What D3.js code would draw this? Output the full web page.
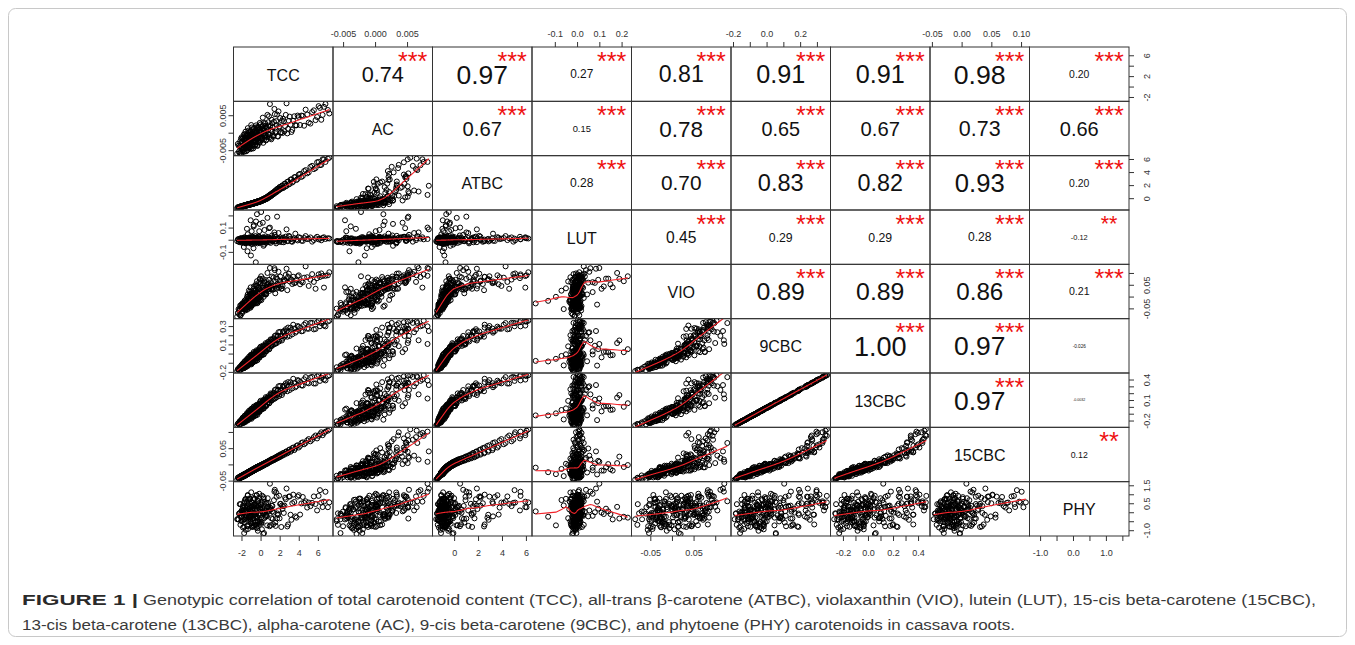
<!DOCTYPE html>
<html>
<head>
<meta charset="utf-8">
<script src="https://cdn.jsdelivr.net/npm/d3@7"></script>
<style>
  body { margin: 0; background: #fff; }
  svg text { font-family: "Liberation Sans", Arial, sans-serif; }
</style>
</head>
<body>
<svg id="chart" width="1355" height="645"></svg>
<script>
// ---------------- DATA ----------------
const varNames = ["TCC", "AC", "ATBC", "LUT", "VIO", "9CBC", "13CBC", "15CBC", "PHY"];

// genotype values (estimated from the scatter panels), one entry per genotype
const tcc = [
  -2.45, -2.31, -2.22, -2.14, -2.09, -2.03, -1.98, -1.94, -1.90, -1.86,
  -1.82, -1.79, -1.75, -1.72, -1.68, -1.65, -1.61, -1.58, -1.55, -1.52,
  -1.49, -1.46, -1.43, -1.40, -1.37, -1.34, -1.31, -1.28, -1.25, -1.22,
  -1.19, -1.16, -1.13, -1.10, -1.07, -1.04, -1.01, -0.98, -0.95, -0.92,
  -0.89, -0.86, -0.83, -0.80, -0.77, -0.74, -0.71, -0.68, -0.65, -0.62,
  -0.59, -0.56, -0.53, -0.50, -0.47, -0.44, -0.41, -0.38, -0.35, -0.32,
  -0.29, -0.26, -0.22, -0.18, -0.14, -0.10, -0.06, -0.02, 0.02, 0.06,
  0.10, 0.14, 0.18, 0.23, 0.28, 0.33, 0.38, 0.43, 0.48, 0.54,
  0.60, 0.66, 0.72, 0.78, 0.84, 0.91, 0.98, 1.05, 1.12, 1.20,
  1.28, 1.36, 1.45, 1.54, 1.63, 1.73, 1.83, 1.94, 2.05, 2.17,
  2.30, 2.43, 2.57, 2.72, 2.88, 3.05, 3.23, 3.42, 3.64, 3.88,
  4.14, 4.42, 4.72, 5.04, 5.40, 5.76, 6.08, 6.36, 6.64, 7.20,
  -2.38, -2.26, -2.18, -2.11, -2.05, -2.00, -1.96, -1.92, -1.88, -1.84,
  -1.80, -1.77, -1.73, -1.70, -1.66, -1.63, -1.60, -1.56, -1.53, -1.50,
  -1.47, -1.44, -1.41, -1.38, -1.35, -1.32, -1.29, -1.26, -1.23, -1.20,
  -1.17, -1.14, -1.11, -1.08, -1.05, -1.02, -0.99, -0.96, -0.93, -0.90,
  -0.87, -0.84, -0.81, -0.78, -0.75, -0.72, -0.69, -0.66, -0.63, -0.60,
  -0.57, -0.54, -0.51, -0.48, -0.45, -0.42, -0.39, -0.36, -0.33, -0.30,
  -0.27, -0.24, -0.20, -0.16, -0.12, -0.08, -0.04, 0.00, 0.04, 0.08,
  0.12, 0.16, 0.21, 0.26, 0.31, 0.36, 0.41, 0.46, 0.51, 0.57,
  0.63, 0.69, 0.75, 0.81, 0.88, 0.95, 1.02, 1.09, 1.16, 1.24,
  1.32, 1.40, 1.49, 1.58, 1.68, 1.78, 1.88, 1.99, 2.11, 2.23,
  2.36, 2.50, 2.64, 2.80, 2.96, 3.14, 3.32, 3.53, 3.76, 4.00,
  4.28, 4.56, 4.88, 5.22, 5.58, 5.92, 6.22, 6.50, 6.80, 7.05
];
const ac = [
  -0.0060, -0.0037, -0.0058, -0.0025, -0.0038, -0.0060, -0.0013, -0.0043, -0.0026, -0.0053,
  -0.0029, -0.0044, -0.0005, -0.0054, -0.0018, -0.0031, -0.0046, 0.0003, -0.0033, -0.0010,
  -0.0053, -0.0015, -0.0030, -0.0006, -0.0040, 0.0013, -0.0033, -0.0018, -0.0044, 0.0001,
  -0.0013, -0.0040, 0.0004, -0.0024, -0.0006, -0.0047, -0.0016, 0.0022, -0.0030, -0.0011,
  -0.0034, 0.0004, -0.0023, -0.0005, -0.0045, -0.0013, 0.0013, -0.0027, 0.0002, -0.0023,
  0.0004, -0.0034, -0.0006, -0.0026, 0.0021, -0.0018, -0.0001, 0.0013, -0.0036, -0.0008,
  -0.0024, 0.0017, -0.0011, 0.0007, 0.0001, -0.0029, 0.0012, -0.0015, 0.0024, -0.0022,
  0.0003, -0.0019, 0.0018, 0.0043, -0.0029, 0.0010, -0.0001, -0.0012, 0.0027, -0.0005,
  -0.0020, 0.0015, 0.0051, -0.0004, 0.0020, -0.0013, 0.0082, 0.0008, -0.0019, 0.0027,
  0.0016, -0.0011, 0.0068, -0.0001, 0.0033, 0.0052, -0.0011, 0.0018, 0.0042, 0.0001,
  -0.0001, 0.0033, 0.0019, 0.0084, 0.0011, 0.0046, 0.0002, 0.0034, 0.0021, 0.0049,
  0.0022, 0.0048, 0.0066, 0.0029, 0.0059, 0.0036, 0.0076, 0.0037, 0.0074, 0.0055,
  -0.0032, -0.0054, -0.0039, -0.0058, -0.0017, -0.0043, -0.0028, -0.0050, -0.0017, -0.0036,
  -0.0046, -0.0013, -0.0038, -0.0021, -0.0054, -0.0004, -0.0031, -0.0015, -0.0044, -0.0022,
  -0.0005, -0.0038, -0.0021, -0.0050, -0.0009, -0.0029, 0.0006, -0.0041, -0.0014, -0.0025,
  -0.0030, -0.0003, -0.0042, -0.0013, -0.0034, 0.0004, -0.0024, -0.0006, -0.0045, 0.0015,
  -0.0012, -0.0037, -0.0003, -0.0026, 0.0010, -0.0038, -0.0013, 0.0002, -0.0026, -0.0005,
  -0.0037, -0.0003, -0.0012, 0.0015, -0.0027, 0.0003, -0.0019, -0.0006, -0.0038, 0.0009,
  -0.0005, -0.0026, 0.0015, -0.0011, -0.0027, 0.0028, -0.0012, 0.0006, 0.0002, -0.0017,
  -0.0014, 0.0012, -0.0005, 0.0021, 0.0028, -0.0020, 0.0007, -0.0008, 0.0019, -0.0022,
  0.0012, -0.0013, 0.0006, 0.0030, 0.0047, -0.0006, 0.0019, -0.0015, 0.0037, 0.0003,
  -0.0008, 0.0031, 0.0053, 0.0003, 0.0022, -0.0010, 0.0061, 0.0015, 0.0001, 0.0034,
  0.0040, 0.0004, 0.0051, -0.0002, 0.0034, 0.0023, 0.0008, 0.0047, 0.0021, 0.0045,
  0.0049, 0.0020, 0.0052, 0.0026, 0.0064, 0.0045, 0.0071, 0.0051, 0.0082, 0.0065
];
const atbc = [
  -1.50, -1.35, -1.41, -1.28, -1.36, -1.22, -1.31, -1.20, -1.29, -1.17,
  -1.26, -1.13, -1.22, -1.10, -1.19, -1.08, -1.16, -1.04, -1.14, -1.12,
  -1.02, -1.11, -0.98, -1.07, -0.96, -1.08, -0.93, -1.03, -0.91, -1.01,
  -0.90, -0.99, -0.87, -0.96, -0.84, -0.95, -0.82, -0.92, -0.80, -0.89,
  -0.78, -0.88, -0.74, -0.85, -0.71, -0.83, -0.69, -0.80, -0.66, -0.77,
  -0.64, -0.75, -0.61, -0.72, -0.58, -0.70, -0.55, -0.66, -0.52, -0.63,
  -0.49, -0.61, -0.46, -0.58, -0.42, -0.55, -0.38, -0.50, -0.33, -0.45,
  -0.27, -0.40, -0.22, -0.35, -0.14, -0.29, -0.08, -0.22, -0.01, -0.15,
  0.10, -0.08, 0.22, 0.06, 0.35, 0.18, 0.50, 0.30, 0.65, 0.47,
  0.82, 0.62, 1.02, 0.85, 1.25, 1.02, 1.48, 1.26, 1.72, 1.50,
  1.95, 1.62, 2.22, 1.90, 2.55, 2.20, 2.88, 2.55, 3.25, 2.95,
  3.72, 3.40, 4.30, 3.95, 4.95, 4.60, 5.55, 5.10, 5.95, 6.20,
  -1.38, -1.43, -1.30, -1.37, -1.25, -1.33, -1.22, -1.30, -1.19, -1.27,
  -1.15, -1.24, -1.12, -1.21, -1.09, -1.18, -1.06, -1.15, -1.03, -1.13,
  -1.12, -1.00, -1.09, -0.97, -1.07, -0.95, -1.05, -0.92, -1.02, -0.90,
  -1.00, -0.88, -0.98, -0.85, -0.96, -0.83, -0.94, -0.80, -0.91, -0.78,
  -0.88, -0.75, -0.86, -0.72, -0.84, -0.70, -0.81, -0.67, -0.79, -0.64,
  -0.76, -0.62, -0.73, -0.58, -0.71, -0.55, -0.68, -0.52, -0.65, -0.49,
  -0.62, -0.47, -0.60, -0.43, -0.56, -0.39, -0.52, -0.34, -0.47, -0.29,
  -0.42, -0.22, -0.37, -0.14, -0.31, -0.06, -0.25, 0.01, -0.17, 0.08,
  -0.10, 0.20, 0.00, 0.34, 0.12, 0.48, 0.26, 0.63, 0.40, 0.80,
  0.58, 0.95, 0.76, 1.20, 0.95, 1.45, 1.18, 1.70, 1.40, 1.90,
  1.58, 2.20, 1.82, 2.50, 2.10, 2.85, 2.40, 3.20, 2.78, 3.62,
  3.25, 4.15, 3.80, 4.80, 4.45, 5.50, 5.05, 5.95, 5.55, 6.05
];
const lut = [
  -0.012, 0.004, -0.020, -0.006, 0.010, -0.015, -0.002, -0.025, 0.006, -0.010,
  -0.004, 0.012, -0.060, -0.018, 0.002, -0.009, 0.018, -0.030, -0.005, 0.008,
  -0.014, 0.001, 0.090, -0.022, -0.095, 0.005, -0.011, 0.015, -0.003, -0.019,
  0.007, -0.008, -0.027, 0.011, -0.001, 0.160, -0.130, -0.016, 0.003, 0.022,
  -0.010, -0.035, 0.006, -0.004, 0.014, -0.070, 0.120, -0.012, 0.000, -0.024,
  0.009, -0.007, 0.030, -0.186, -0.013, 0.004, -0.020, 0.210, -0.006, 0.013,
  -0.017, 0.002, -0.009, 0.025, 0.070, -0.028, 0.008, -0.003, -0.014, 0.228,
  0.005, -0.011, 0.017, 0.140, -0.022, 0.000, -0.040, 0.010, -0.007, 0.028,
  -0.015, 0.006, 0.180, -0.019, 0.012, -0.004, 0.100, -0.026, 0.003, 0.035,
  -0.008, 0.015, 0.060, -0.012, -0.030, 0.190, 0.007, -0.018, 0.020, -0.002,
  0.011, -0.021, 0.004, 0.085, -0.009, 0.024, -0.014, 0.001, 0.050, -0.006,
  0.016, -0.010, 0.030, 0.008, -0.016, 0.012, 0.003, -0.005, 0.020, 0.010,
  0.003, -0.016, 0.008, -0.011, -0.001, 0.014, -0.022, 0.000, -0.008, 0.011,
  -0.019, 0.005, -0.006, 0.020, -0.013, 0.002, -0.027, 0.009, -0.003, -0.015,
  0.012, -0.010, 0.004, -0.024, 0.045, -0.007, 0.016, -0.002, -0.018, 0.006,
  -0.005, 0.018, -0.014, 0.001, -0.021, 0.009, -0.033, 0.013, 0.070, -0.009,
  0.002, -0.017, 0.024, -0.006, 0.011, 0.110, -0.012, 0.005, -0.025, 0.015,
  -0.011, 0.007, -0.002, 0.150, -0.019, 0.003, 0.020, -0.008, -0.030, 0.010,
  0.000, -0.013, 0.027, 0.006, -0.022, 0.130, -0.005, 0.015, -0.016, 0.004,
  -0.009, 0.012, -0.020, 0.019, -0.050, -0.003, 0.080, -0.012, 0.008, -0.026,
  0.014, -0.007, 0.022, 0.002, 0.095, -0.018, 0.010, -0.004, 0.017, -0.011,
  -0.006, 0.009, 0.040, -0.015, 0.001, 0.013, 0.055, -0.009, 0.004, -0.020,
  0.018, -0.004, 0.026, -0.012, 0.032, 0.007, -0.017, 0.011, 0.002, 0.021,
  -0.008, 0.014, 0.005, 0.019, -0.003, 0.024, 0.009, 0.015, 0.006, 0.012
];
const vio = [
  -0.085, -0.053, -0.076, -0.038, -0.079, -0.051, -0.033, -0.070, -0.031, -0.049,
  -0.037, -0.047, -0.053, -0.053, -0.018, -0.023, -0.059, -0.014, -0.056, -0.034,
  -0.035, -0.021, -0.034, -0.041, -0.001, -0.043, -0.040, 0.003, -0.043, 0.026,
  -0.034, -0.028, 0.010, -0.038, -0.033, 0.039, -0.018, -0.014, -0.038, 0.014,
  -0.020, -0.021, 0.015, -0.028, -0.024, 0.025, 0.043, -0.018, -0.013, -0.029,
  0.023, 0.014, -0.006, -0.029, 0.046, -0.013, -0.004, 0.065, -0.006, 0.001,
  -0.012, 0.043, -0.006, 0.010, 0.061, -0.017, 0.073, 0.000, 0.004, 0.086,
  0.012, 0.006, 0.050, 0.076, 0.020, -0.001, 0.064, 0.011, 0.009, 0.070,
  0.012, 0.029, 0.100, 0.030, 0.034, 0.024, 0.121, 0.060, 0.031, 0.085,
  0.029, 0.081, 0.120, 0.014, 0.082, 0.075, 0.050, 0.038, 0.085, 0.033,
  0.045, 0.071, 0.068, 0.118, 0.083, 0.064, 0.072, 0.084, 0.059, 0.086,
  0.052, 0.060, 0.128, 0.045, 0.095, 0.033, 0.094, 0.098, 0.038, 0.103,
  -0.069, -0.060, -0.052, -0.080, -0.037, -0.043, -0.051, -0.064, -0.028, -0.050,
  -0.032, -0.032, -0.044, -0.040, -0.027, -0.028, -0.051, -0.028, -0.052, -0.022,
  -0.026, -0.032, -0.001, -0.055, 0.009, -0.045, -0.017, -0.012, -0.028, -0.040,
  0.006, -0.047, 0.021, 0.011, -0.047, 0.001, -0.016, -0.039, 0.019, -0.038,
  -0.023, 0.001, 0.007, -0.026, 0.013, 0.033, -0.028, 0.016, -0.001, 0.005,
  -0.014, -0.018, 0.027, 0.052, -0.025, 0.044, 0.015, 0.002, -0.028, 0.018,
  0.037, -0.021, 0.037, 0.030, -0.007, 0.076, -0.012, 0.056, 0.027, -0.015,
  0.014, 0.022, 0.018, 0.057, 0.035, 0.016, 0.058, 0.030, 0.032, 0.009,
  0.037, 0.040, 0.042, 0.052, 0.071, 0.045, 0.042, 0.048, 0.056, 0.038,
  0.047, 0.032, 0.112, 0.046, 0.034, 0.055, 0.105, 0.065, 0.043, 0.034,
  0.064, 0.066, 0.092, 0.027, 0.097, 0.074, 0.053, 0.057, 0.070, 0.090,
  0.064, 0.080, 0.082, 0.072, 0.062, 0.078, 0.083, 0.087, 0.088, 0.090
];
const cbc9 = [
  -0.190, -0.167, -0.182, -0.146, -0.177, -0.149, -0.128, -0.162, -0.132, -0.149,
  -0.111, -0.156, -0.129, -0.158, -0.111, -0.087, -0.132, -0.109, -0.149, -0.095,
  -0.126, -0.077, -0.131, -0.097, -0.057, -0.132, -0.096, -0.071, -0.110, -0.035,
  -0.110, -0.073, -0.045, -0.111, -0.073, -0.016, -0.086, -0.051, -0.106, -0.039,
  -0.054, -0.089, -0.016, -0.054, -0.089, -0.026, 0.018, -0.064, -0.029, -0.085,
  -0.007, -0.052, -0.017, -0.080, 0.022, -0.028, -0.050, 0.015, -0.031, 0.004,
  -0.048, 0.032, -0.003, -0.027, 0.026, -0.043, 0.065, 0.008, -0.018, 0.048,
  0.029, -0.017, 0.071, 0.016, 0.055, -0.010, 0.079, 0.052, 0.028, 0.114,
  0.029, 0.087, 0.115, 0.060, 0.111, 0.047, 0.105, 0.155, 0.084, 0.148,
  0.095, 0.167, 0.145, 0.108, 0.200, 0.143, 0.193, 0.132, 0.238, 0.190,
  0.163, 0.246, 0.199, 0.246, 0.284, 0.192, 0.258, 0.315, 0.228, 0.301,
  0.279, 0.246, 0.333, 0.271, 0.335, 0.269, 0.359, 0.332, 0.306, 0.359,
  -0.170, -0.183, -0.146, -0.178, -0.148, -0.125, -0.164, -0.144, -0.111, -0.163,
  -0.130, -0.099, -0.156, -0.117, -0.134, -0.081, -0.149, -0.100, -0.116, -0.131,
  -0.085, -0.129, -0.058, -0.111, -0.084, -0.133, -0.059, -0.096, -0.079, -0.116,
  -0.054, -0.097, -0.066, -0.030, -0.110, -0.069, -0.050, -0.117, -0.010, -0.068,
  -0.087, -0.023, -0.055, -0.096, 0.002, -0.041, -0.069, -0.018, -0.054, 0.001,
  -0.031, -0.079, 0.012, -0.019, -0.056, 0.036, -0.032, 0.004, -0.072, 0.001,
  0.023, -0.034, 0.001, 0.047, -0.040, 0.020, -0.010, 0.075, 0.008, -0.018,
  -0.010, 0.049, 0.015, 0.088, -0.008, 0.055, 0.086, 0.026, 0.080, 0.021,
  0.102, 0.047, 0.083, 0.130, 0.049, 0.116, 0.087, 0.148, 0.081, 0.131,
  0.158, 0.100, 0.193, 0.146, 0.113, 0.191, 0.233, 0.154, 0.191, 0.143,
  0.236, 0.184, 0.266, 0.184, 0.241, 0.283, 0.210, 0.273, 0.241, 0.294,
  0.243, 0.315, 0.272, 0.335, 0.264, 0.342, 0.298, 0.350, 0.297, 0.350
];
const cbc13 = [
  -0.270, -0.235, -0.262, -0.206, -0.255, -0.211, -0.190, -0.228, -0.196, -0.212,
  -0.160, -0.228, -0.184, -0.230, -0.168, -0.128, -0.195, -0.157, -0.218, -0.139,
  -0.187, -0.114, -0.194, -0.141, -0.095, -0.188, -0.147, -0.106, -0.166, -0.058,
  -0.158, -0.117, -0.071, -0.167, -0.110, -0.040, -0.126, -0.087, -0.154, -0.064,
  -0.091, -0.130, -0.033, -0.084, -0.138, -0.046, 0.005, -0.104, -0.050, -0.132,
  -0.020, -0.088, -0.034, -0.125, 0.018, -0.055, -0.078, 0.001, -0.060, -0.006,
  -0.083, 0.032, -0.015, -0.055, 0.024, -0.069, 0.068, 0.000, -0.043, 0.053,
  0.028, -0.034, 0.076, 0.010, 0.055, -0.024, 0.087, 0.059, 0.019, 0.142,
  0.020, 0.106, 0.135, 0.069, 0.130, 0.052, 0.122, 0.197, 0.094, 0.187,
  0.116, 0.205, 0.183, 0.126, 0.257, 0.173, 0.248, 0.158, 0.308, 0.236,
  0.207, 0.311, 0.256, 0.319, 0.362, 0.246, 0.327, 0.411, 0.287, 0.392,
  0.363, 0.311, 0.435, 0.344, 0.438, 0.342, 0.466, 0.426, 0.399, 0.462,
  -0.246, -0.257, -0.214, -0.250, -0.210, -0.186, -0.231, -0.212, -0.160, -0.237,
  -0.186, -0.151, -0.220, -0.175, -0.191, -0.127, -0.211, -0.153, -0.167, -0.194,
  -0.125, -0.191, -0.089, -0.167, -0.124, -0.197, -0.098, -0.140, -0.125, -0.167,
  -0.091, -0.141, -0.107, -0.052, -0.166, -0.104, -0.078, -0.175, -0.025, -0.110,
  -0.128, -0.050, -0.085, -0.147, -0.016, -0.066, -0.111, -0.036, -0.091, -0.010,
  -0.053, -0.124, 0.005, -0.044, -0.087, 0.029, -0.061, -0.006, -0.115, -0.017,
  0.019, -0.057, -0.017, 0.044, -0.072, 0.015, -0.025, 0.089, -0.008, -0.035,
  -0.032, 0.054, 0.001, 0.099, -0.022, 0.062, 0.104, 0.016, 0.096, 0.010,
  0.125, 0.044, 0.100, 0.155, 0.054, 0.137, 0.105, 0.180, 0.090, 0.164,
  0.200, 0.115, 0.247, 0.177, 0.140, 0.237, 0.301, 0.188, 0.244, 0.173,
  0.292, 0.235, 0.345, 0.228, 0.312, 0.360, 0.270, 0.347, 0.304, 0.383,
  0.314, 0.403, 0.353, 0.430, 0.342, 0.447, 0.380, 0.458, 0.387, 0.450
];
const cbc15 = [
  -0.047, -0.040, -0.044, -0.037, -0.041, -0.035, -0.040, -0.034, -0.039, -0.033,
  -0.037, -0.032, -0.036, -0.030, -0.035, -0.029, -0.034, -0.028, -0.033, -0.028,
  -0.032, -0.027, -0.031, -0.025, -0.030, -0.024, -0.029, -0.023, -0.028, -0.022,
  -0.027, -0.021, -0.026, -0.020, -0.025, -0.019, -0.024, -0.018, -0.023, -0.017,
  -0.022, -0.016, -0.021, -0.015, -0.020, -0.014, -0.019, -0.013, -0.018, -0.012,
  -0.017, -0.011, -0.016, -0.010, -0.015, -0.009, -0.014, -0.008, -0.013, -0.007,
  -0.012, -0.007, -0.011, -0.005, -0.010, -0.004, -0.009, -0.003, -0.007, -0.002,
  -0.006, -0.001, -0.005, 0.001, -0.003, 0.002, -0.002, 0.004, 0.000, 0.005,
  0.002, 0.007, 0.004, 0.009, 0.006, 0.011, 0.008, 0.013, 0.010, 0.016,
  0.013, 0.018, 0.015, 0.021, 0.018, 0.024, 0.021, 0.028, 0.024, 0.031,
  0.028, 0.035, 0.033, 0.040, 0.037, 0.046, 0.043, 0.052, 0.049, 0.059,
  0.057, 0.068, 0.066, 0.078, 0.076, 0.089, 0.088, 0.099, 0.097, 0.108,
  -0.041, -0.045, -0.038, -0.042, -0.036, -0.040, -0.035, -0.039, -0.033, -0.038,
  -0.032, -0.037, -0.031, -0.036, -0.030, -0.035, -0.029, -0.034, -0.028, -0.032,
  -0.027, -0.031, -0.026, -0.030, -0.025, -0.029, -0.024, -0.028, -0.023, -0.027,
  -0.022, -0.026, -0.021, -0.025, -0.020, -0.024, -0.019, -0.023, -0.018, -0.022,
  -0.017, -0.021, -0.016, -0.020, -0.015, -0.019, -0.014, -0.018, -0.013, -0.017,
  -0.012, -0.016, -0.011, -0.015, -0.010, -0.014, -0.009, -0.013, -0.008, -0.012,
  -0.007, -0.012, -0.006, -0.011, -0.005, -0.009, -0.004, -0.008, -0.002, -0.007,
  -0.001, -0.006, 0.000, -0.004, 0.002, -0.003, 0.003, -0.001, 0.005, 0.001,
  0.007, 0.002, 0.009, 0.004, 0.011, 0.007, 0.014, 0.009, 0.016, 0.011,
  0.018, 0.013, 0.020, 0.016, 0.024, 0.019, 0.027, 0.022, 0.031, 0.026,
  0.035, 0.030, 0.039, 0.034, 0.044, 0.039, 0.050, 0.044, 0.057, 0.052,
  0.066, 0.062, 0.074, 0.071, 0.084, 0.080, 0.093, 0.090, 0.101, 0.104
];
const phy = [
  -0.39, -0.39, -0.06, -0.03, 0.45, -0.49, 0.10, 0.04, -0.48, -0.12,
  -0.40, -0.04, 0.38, -1.16, 0.61, -0.56, 0.28, 0.74, -0.98, 0.11,
  -0.20, -0.16, 0.59, 0.30, -0.73, 0.96, 0.69, -0.53, -0.25, 0.18,
  -0.33, 0.06, 0.29, 0.73, -0.48, -0.40, -0.25, 1.11, 0.30, -0.82,
  0.15, 0.16, -0.78, 0.41, -0.34, 0.68, -0.10, -0.77, 0.41, 0.76,
  0.17, 0.16, -0.70, 0.05, 0.34, -0.71, 0.93, -0.25, -0.89, 0.30,
  -1.03, 0.62, 0.46, -0.15, 1.03, -0.64, -0.17, 0.17, 0.45, -0.30,
  0.56, -0.95, 0.24, 0.05, -1.21, 0.84, -0.33, 0.58, 0.11, -0.20,
  -0.15, -0.22, 0.30, 0.53, 0.06, 0.13, 1.59, -0.72, -0.33, 0.04,
  -0.37, -0.02, 1.15, -0.57, 1.10, -0.35, -0.15, 0.92, 0.46, -0.82,
  0.18, -0.04, 0.81, 1.32, -0.68, 0.88, -0.42, 0.98, -0.23, 0.87,
  -0.13, 0.85, 0.61, 0.54, 0.52, 0.46, 0.91, 0.54, 0.59, 0.55,
  -0.39, -0.08, 0.45, -0.70, -0.28, -0.05, -0.26, 0.04, 0.34, -0.85,
  0.23, 0.12, -0.80, 0.54, -0.39, 0.09, 0.70, -0.30, -0.15, -0.01,
  -0.26, 0.23, 0.35, -0.78, 0.92, -0.93, 0.45, 0.16, -0.27, 0.76,
  0.23, -0.20, -0.28, 0.73, -0.49, 0.05, 0.59, -0.62, -0.20, 0.53,
  -0.36, 0.34, 0.10, -0.81, 0.79, -0.02, -0.74, 0.41, 0.40, -0.15,
  -0.25, -0.54, 0.48, -0.10, -0.84, 0.96, 0.15, -0.29, -0.50, -0.51,
  0.63, -0.54, -0.14, 0.79, -0.55, 0.20, 0.28, -0.51, 0.39, -0.64,
  -0.55, 0.92, 0.16, -0.07, 0.75, -1.16, 0.00, -0.04, -0.27, 0.46,
  0.52, -0.73, 0.78, 0.31, 0.20, -0.78, 0.25, 0.15, 0.36, 0.35,
  -0.67, 0.67, 1.25, -0.76, 0.86, -0.07, 0.10, -0.34, 0.47, 0.37,
  0.34, 0.37, 0.72, -0.79, 0.87, -0.14, 0.50, 0.57, -0.30, 0.95,
  0.49, 0.52, 0.26, 0.34, 0.88, 0.10, 1.23, 0.29, 1.14, 0.28
];

// correlations printed in the upper panels (row by row, left to right)
const corrLabels = [
  "0.74", "0.97", "0.27", "0.81", "0.91", "0.91", "0.98", "0.20",
  "0.67", "0.15", "0.78", "0.65", "0.67", "0.73", "0.66",
  "0.28", "0.70", "0.83", "0.82", "0.93", "0.20",
  "0.45", "0.29", "0.29", "0.28", "-0.12",
  "0.89", "0.89", "0.86", "0.21",
  "1.00", "0.97", "-0.026",
  "0.97", "-0.0032",
  "0.12"
];
const corrValues = [
  0.74, 0.97, 0.27, 0.81, 0.91, 0.91, 0.98, 0.20,
  0.67, 0.15, 0.78, 0.65, 0.67, 0.73, 0.66,
  0.28, 0.70, 0.83, 0.82, 0.93, 0.20,
  0.45, 0.29, 0.29, 0.28, -0.12,
  0.89, 0.89, 0.86, 0.21,
  1.00, 0.97, -0.026,
  0.97, -0.0032,
  0.12
];
const corrStars = [
  "***", "***", "***", "***", "***", "***", "***", "***",
  "***", "***", "***", "***", "***", "***", "***",
  "***", "***", "***", "***", "***", "***",
  "***", "***", "***", "***", "**",
  "***", "***", "***", "***",
  "***", "***", "",
  "***", "",
  "**"
];

// tick positions per variable
const tickTCC = [-2, 0, 2, 4, 6];
const tickAC = [-0.005, 0, 0.005];
const tickATBC = [0, 2, 4, 6];
const tickLUT = [-0.1, 0, 0.1, 0.2];
const tickVIO = [-0.05, 0, 0.05, 0.1];
const tick9CBC = [-0.2, -0.1, 0, 0.1, 0.2, 0.3];
const tick13CBC = [-0.2, -0.1, 0, 0.1, 0.2, 0.3, 0.4];
const tick15CBC = [-0.05, 0, 0.05, 0.1];
const tickPHY = [-1, -0.5, 0, 0.5, 1, 1.5];

// tick labels on the horizontal (top / bottom) axes
const hLabTCC = ["-2", "0", "2", "4", "6"];
const hLabAC = ["-0.005", "0.000", "0.005"];
const hLabATBC = ["0", "2", "4", "6"];
const hLabLUT = ["-0.1", "0.0", "0.1", "0.2"];
const hLabVIO = ["-0.05", "", "0.05", ""];
const hLab9CBC = ["-0.2", "", "0.0", "", "0.2", ""];
const hLab13CBC = ["-0.2", "", "0.0", "", "0.2", "", "0.4"];
const hLab15CBC = ["-0.05", "0.00", "0.05", "0.10"];
const hLabPHY = ["-1.0", "", "0.0", "", "1.0", ""];

// tick labels on the vertical (left / right) axes
const vLabTCC = ["-2", "", "2", "", "6"];
const vLabAC = ["-0.005", "", "0.005"];
const vLabATBC = ["0", "2", "4", "6"];
const vLabLUT = ["-0.1", "", "0.1", ""];
const vLabVIO = ["-0.05", "", "0.05", ""];
const vLab9CBC = ["-0.2", "", "", "0.1", "", "0.3"];
const vLab13CBC = ["-0.2", "", "", "0.1", "", "", "0.4"];
const vLab15CBC = ["-0.05", "", "0.05", ""];
const vLabPHY = ["-1.0", "", "", "0.5", "", "1.5"];

const captionBold = "FIGURE 1 |";
const captionLine1 = "Genotypic correlation of total carotenoid content (TCC), all-trans \u03b2-carotene (ATBC), violaxanthin (VIO), lutein (LUT), 15-cis beta-carotene (15CBC),";
const captionLine2 = "13-cis beta-carotene (13CBC), alpha-carotene (AC), 9-cis beta-carotene (9CBC), and phytoene (PHY) carotenoids in cassava roots.";

// ---------------- DRAWING ----------------
const FONT = '"Liberation Sans", Arial, sans-serif';
const columns = [tcc, ac, atbc, lut, vio, cbc9, cbc13, cbc15, phy];
const ticks = [tickTCC, tickAC, tickATBC, tickLUT, tickVIO, tick9CBC, tick13CBC, tick15CBC, tickPHY];
const hLabs = [hLabTCC, hLabAC, hLabATBC, hLabLUT, hLabVIO, hLab9CBC, hLab13CBC, hLab15CBC, hLabPHY];
const vLabs = [vLabTCC, vLabAC, vLabATBC, vLabLUT, vLabVIO, vLab9CBC, vLab13CBC, vLab15CBC, vLabPHY];

const nVar = varNames.length;
const plotLeft = 233.5, plotTop = 47, plotRight = 1129, plotBottom = 536;
const W = (plotRight - plotLeft) / nVar;
const H = (plotBottom - plotTop) / nVar;

const svg = d3.select("#chart");
svg.append("rect").attr("width", 1355).attr("height", 645).attr("fill", "#fff");
svg.append("rect")
  .attr("x", 8.5).attr("y", 8.5).attr("width", 1338).attr("height", 628)
  .attr("rx", 7).attr("fill", "none").attr("stroke", "#c8c8c8").attr("stroke-width", 1);

function paddedDomain(v) {
  const [mn, mx] = d3.extent(v);
  const pad = (mx - mn) * 0.04;
  return [mn - pad, mx + pad];
}
const xScales = columns.map((v, j) =>
  d3.scaleLinear().domain(paddedDomain(v)).range([plotLeft + j * W, plotLeft + (j + 1) * W]));
const yScales = columns.map((v, i) =>
  d3.scaleLinear().domain(paddedDomain(v)).range([plotTop + (i + 1) * H, plotTop + i * H]));

// R-style lowess smoother
function lowess(xv, yv, f = 2 / 3, iter = 3) {
  const order = d3.range(xv.length).sort((a, b) => xv[a] - xv[b]);
  const x = order.map(i => xv[i]), y = order.map(i => yv[i]);
  const n = x.length;
  const ns = Math.max(Math.min(Math.round(f * n), n), 2);
  let rw = new Array(n).fill(1);
  const ys = new Array(n).fill(0);
  const rangeX = x[n - 1] - x[0];
  for (let it = 0; it <= iter; it++) {
    for (let i = 0; i < n; i++) {
      const d = x.map(v => Math.abs(v - x[i])).sort((a, b) => a - b);
      const h = d[ns - 1];
      const h9 = 0.999 * h, h1 = 0.001 * h;
      const w = new Array(n);
      let sw = 0;
      for (let j = 0; j < n; j++) {
        const r = Math.abs(x[j] - x[i]);
        let wj = 0;
        if (r <= h9) wj = (r <= h1) ? 1 : Math.pow(1 - Math.pow(r / h, 3), 3);
        wj *= rw[j];
        w[j] = wj; sw += wj;
      }
      if (sw <= 0) { ys[i] = y[i]; continue; }
      let mx = 0, my = 0;
      for (let j = 0; j < n; j++) { mx += w[j] * x[j]; my += w[j] * y[j]; }
      mx /= sw; my /= sw;
      let c = 0;
      for (let j = 0; j < n; j++) c += w[j] * (x[j] - mx) * (x[j] - mx);
      if (h > 0 && Math.sqrt(c / sw) > 0.001 * rangeX) {
        let b = 0;
        for (let j = 0; j < n; j++) b += w[j] * (x[j] - mx) * y[j];
        b /= c;
        ys[i] = my + b * (x[i] - mx);
      } else {
        ys[i] = my;
      }
    }
    if (it === iter) break;
    const res = y.map((v, k) => v - ys[k]);
    const cmad = 6 * d3.median(res.map(Math.abs));
    if (!(cmad > 0)) break;
    rw = res.map(r => {
      const a = Math.abs(r);
      if (a <= 0.001 * cmad) return 1;
      if (a > 0.999 * cmad) return 0;
      const u = a / cmad;
      return (1 - u * u) * (1 - u * u);
    });
  }
  return x.map((v, k) => [v, ys[k]]);
}

function textWidthEm(str) {
  const t = svg.append("text").attr("font-size", 100).attr("font-family", FONT).text(str);
  const w = t.node().getComputedTextLength() / 100;
  t.remove();
  return w;
}

const defs = svg.append("defs");
const panels = svg.append("g");
let corrIndex = 0;

for (let i = 0; i < nVar; i++) {
  for (let j = 0; j < nVar; j++) {
    const x0 = plotLeft + j * W, y0 = plotTop + i * H;
    const cx = x0 + W / 2, cy = y0 + H / 2;
    if (i === j) {
      panels.append("text")
        .attr("x", cx).attr("y", cy + 6.5)
        .attr("text-anchor", "middle")
        .attr("font-size", 16).attr("fill", "#111")
        .text(varNames[i]);
    } else if (i < j) {
      const k = corrIndex++;
      const label = corrLabels[k];
      const base = 0.53 * W / textWidthEm(label);
      const fs = base * (Math.abs(corrValues[k]) + 0.3) / 1.3;
      panels.append("text")
        .attr("x", cx).attr("y", cy + 0.358 * fs)
        .attr("text-anchor", "middle")
        .attr("font-size", fs).attr("fill", "#111")
        .text(label);
      if (corrStars[k]) {
        const sfs = base * 0.93;
        panels.append("text")
          .attr("x", x0 + 0.8 * W).attr("y", y0 + 0.23 * H + 0.41 * sfs)
          .attr("text-anchor", "middle")
          .attr("font-size", sfs).attr("fill", "#ee1111")
          .text(corrStars[k]);
      }
    } else {
      const clipId = `clip-${i}-${j}`;
      defs.append("clipPath").attr("id", clipId)
        .append("rect").attr("x", x0).attr("y", y0).attr("width", W).attr("height", H);
      const g = panels.append("g").attr("clip-path", `url(#${clipId})`);
      const xs = xScales[j], ysc = yScales[i];
      const xv = columns[j], yv = columns[i];
      g.selectAll("circle")
        .data(d3.range(xv.length))
        .join("circle")
        .attr("cx", k => xs(xv[k]))
        .attr("cy", k => ysc(yv[k]))
        .attr("r", 2.5)
        .attr("fill", "none")
        .attr("stroke", "#000")
        .attr("stroke-width", 1);
      const fit = lowess(xv, yv);
      g.append("path")
        .datum(fit)
        .attr("d", d3.line().x(d => xs(d[0])).y(d => ysc(d[1])))
        .attr("fill", "none")
        .attr("stroke", "#f2242a")
        .attr("stroke-width", 1.1);
    }
  }
}

// panel borders
const borders = svg.append("g");
for (let i = 0; i < nVar; i++) {
  for (let j = 0; j < nVar; j++) {
    borders.append("rect")
      .attr("x", plotLeft + j * W).attr("y", plotTop + i * H)
      .attr("width", W).attr("height", H)
      .attr("fill", "none").attr("stroke", "#333").attr("stroke-width", 1);
  }
}

// axes (R pairs layout: top for even columns, bottom for odd, left for even rows, right for odd)
function styleAxis(g) {
  g.select(".domain").remove();
  g.selectAll(".tick line").attr("stroke", "#333");
  g.selectAll(".tick text").attr("fill", "#333").attr("font-size", 9).attr("font-family", FONT);
}
for (let j = 0; j < nVar; j++) {
  if (j % 2 === 1) {
    const g = svg.append("g").attr("transform", `translate(0,${plotTop})`)
      .call(d3.axisTop(xScales[j]).tickValues(ticks[j]).tickFormat((d, k) => hLabs[j][k]).tickSize(5).tickSizeOuter(0));
    styleAxis(g);
    g.selectAll(".tick text").attr("y", -10).attr("dy", 0);
  } else {
    const g = svg.append("g").attr("transform", `translate(0,${plotBottom})`)
      .call(d3.axisBottom(xScales[j]).tickValues(ticks[j]).tickFormat((d, k) => hLabs[j][k]).tickSize(5).tickSizeOuter(0));
    styleAxis(g);
    g.selectAll(".tick text").attr("y", 19.5).attr("dy", 0);
  }
}
for (let i = 0; i < nVar; i++) {
  if (i % 2 === 1) {
    const g = svg.append("g").attr("transform", `translate(${plotLeft},0)`)
      .call(d3.axisLeft(yScales[i]).tickValues(ticks[i]).tickFormat((d, k) => vLabs[i][k]).tickSize(5).tickSizeOuter(0));
    styleAxis(g);
    g.selectAll(".tick text").attr("x", 0).attr("y", -8).attr("dy", 0)
      .attr("text-anchor", "middle").attr("transform", "rotate(-90)");
  } else {
    const g = svg.append("g").attr("transform", `translate(${plotRight},0)`)
      .call(d3.axisRight(yScales[i]).tickValues(ticks[i]).tickFormat((d, k) => vLabs[i][k]).tickSize(5).tickSizeOuter(0));
    styleAxis(g);
    g.selectAll(".tick text").attr("x", 0).attr("y", 21).attr("dy", 0)
      .attr("text-anchor", "middle").attr("transform", "rotate(-90)");
  }
}

// caption
svg.append("text")
  .attr("x", 22).attr("y", 605)
  .attr("font-size", 15.5).attr("font-weight", "bold").attr("fill", "#2a2a2a")
  .attr("textLength", 116).attr("lengthAdjust", "spacingAndGlyphs")
  .text(captionBold);
svg.append("text")
  .attr("x", 143).attr("y", 605)
  .attr("font-size", 15.5).attr("fill", "#3a3a3a")
  .attr("textLength", 1173).attr("lengthAdjust", "spacingAndGlyphs")
  .text(captionLine1);
svg.append("text")
  .attr("x", 22).attr("y", 630)
  .attr("font-size", 15.5).attr("fill", "#3a3a3a")
  .attr("textLength", 993).attr("lengthAdjust", "spacingAndGlyphs")
  .text(captionLine2);
</script>
</body>
</html>
